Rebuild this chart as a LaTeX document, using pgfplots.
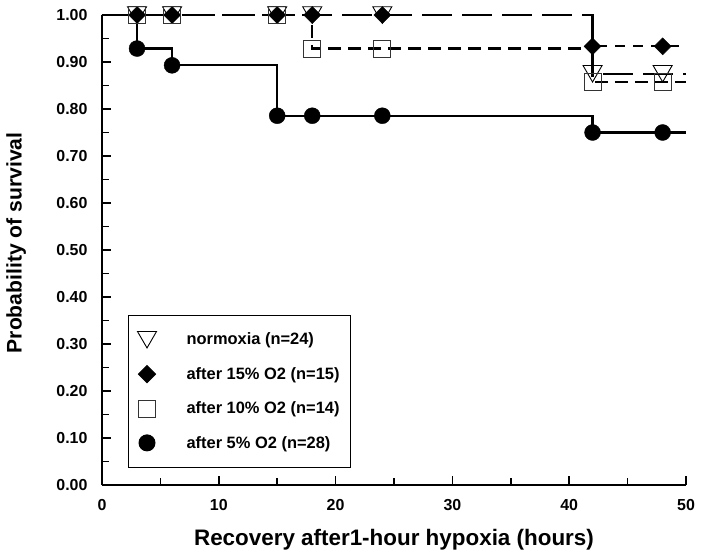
\documentclass[border=0pt]{standalone}
\usepackage{fontspec}
\setmainfont{Liberation Sans}
\usepackage{pgfplots}
\pgfplotsset{compat=1.18}
\begin{document}
\begin{tikzpicture}
\useasboundingbox (-102bp,-74bp) rectangle (599bp,485bp);
\begin{axis}[
  scale only axis,
  width=584bp, height=470bp,
  xmin=0, xmax=50, ymin=0, ymax=1,
  axis x line*=bottom, axis y line*=left,
  axis line style={line width=2bp},
  xtick={0,10,20,30,40,50},
  ytick={0,0.1,0.2,0.3,0.4,0.5,0.6,0.7,0.8,0.9,1.0},
  minor x tick num=1, minor y tick num=1,
  tick align=inside,
  major tick length=9bp, minor tick length=7bp,
  every tick/.style={line width=1.6bp, black},
  /pgf/number format/assume math mode=true,
  yticklabel style={/pgf/number format/.cd, fixed, fixed zerofill, precision=2, /tikz/.cd, xshift=-11bp},
  xticklabel style={yshift=-11bp},
  tick label style={font=\bfseries\fontsize{16}{18}\selectfont},
  xlabel={Recovery after1-hour hypoxia (hours)},
  ylabel={Probability of survival},
  xlabel style={font=\bfseries\fontsize{22.5}{26}\selectfont, at={(axis description cs:0.5,-0.117)}, anchor=center},
  ylabel style={font=\bfseries\fontsize{21.2}{25}\selectfont, at={(axis description cs:-0.147,0.515)}, anchor=center},
  legend cell align=left,
  legend style={at={(axis description cs:0.0445,0.036)}, anchor=south west,
    draw=black, line width=1bp, font=\bfseries\fontsize{16.5}{19}\selectfont,
    inner xsep=9bp, inner ysep=16bp, row sep=17bp,
    /tikz/every odd column/.append style={column sep=28bp}},
  legend image code/.code={\draw[mark repeat=2,mark phase=2] plot coordinates {(0bp,0bp)(22bp,0bp)(44bp,0bp)};},
]
% survival step lines
\addplot[const plot, forget plot, line width=2.2bp, dash pattern=on 30bp off 10bp] coordinates {(0,1)(42,0.875)(50,0.875)};
\addplot[const plot, forget plot, line width=2.2bp, dash pattern=on 10bp off 8bp] coordinates {(42,1)(42,0.9333)(50,0.9333)};
\addplot[const plot, forget plot, line width=2.2bp, dash pattern=on 13bp off 7bp] coordinates {(0,1)(18,0.9286)(42,0.8571)(50,0.8571)};
\addplot[const plot, forget plot, line width=2.2bp] coordinates {(0,1)(3,0.9286)(6,0.8929)(15,0.7857)(42,0.75)(50,0.75)};
% censor / event marks
\addplot[only marks, mark=triangle, mark size=11bp, mark options={yshift=2.75bp, rotate=180, line width=0.9bp, solid, fill=none}] coordinates {(3,1)(6,1)(15,1)(18,1)(24,1)(42,0.875)(48,0.875)};
\addlegendentry{normoxia (n=24)}
\addplot[only marks, mark=square*, mark size=6bp, mark options={rotate=45, black, fill=black, solid}] coordinates {(3,1)(6,1)(15,1)(18,1)(24,1)(42,0.9333)(48,0.9333)};
\addlegendentry{after 15\% O2 (n=15)}
\addplot[only marks, mark=square, mark size=8.5bp, mark options={line width=0.8bp, solid, fill=none, draw=black!80}] coordinates {(3,1)(6,1)(15,1)(18,0.9286)(24,0.9286)(42,0.8571)(48,0.8571)};
\addlegendentry{after 10\% O2 (n=14)}
\addplot[only marks, mark=*, mark size=8bp, mark options={black, fill=black, solid}] coordinates {(3,0.9286)(6,0.8929)(15,0.7857)(18,0.7857)(24,0.7857)(42,0.75)(48,0.75)};
\addlegendentry{after 5\% O2 (n=28)}
\end{axis}
\end{tikzpicture}
\end{document}
